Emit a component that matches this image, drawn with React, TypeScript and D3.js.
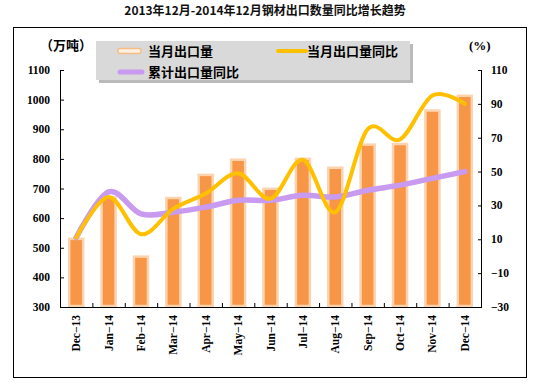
import * as React from 'react';
import * as d3 from 'd3';

const months = ['Dec-13', 'Jan-14', 'Feb-14', 'Mar-14', 'Apr-14', 'May-14', 'Jun-14', 'Jul-14', 'Aug-14', 'Sep-14', 'Oct-14', 'Nov-14', 'Dec-14'];
const monthlyExport = [530, 670, 470, 668, 746, 797, 699, 800, 770, 848, 850, 963, 1013];
const monthlyYoY = [11, 35, 13, 28, 37, 49, 34, 57, 26, 75, 69, 95, 90];
const cumulativeYoY = [11, 38, 25, 26, 29, 33, 33, 36, 35, 39, 42, 46, 50];
const leftTicks = [300, 400, 500, 600, 700, 800, 900, 1000, 1100];
const rightTicks = [-30, -10, 10, 30, 50, 70, 90, 110];

const W = 537;
const H = 389;
const plot = { left: 60, right: 481, top: 70, bottom: 307 };
const numFont = '"Liberation Serif", "Times New Roman", serif';
const cjkFont = '"Noto Sans CJK SC", sans-serif';

const App: React.FC = () => {
  const x = d3.scaleBand().domain(months).range([plot.left, plot.right]).padding(0);
  const yL = d3.scaleLinear().domain([300, 1100]).range([plot.bottom, plot.top]);
  const yR = d3.scaleLinear().domain([-30, 110]).range([plot.bottom, plot.top]);
  const cx = (m: string) => (x(m) as number) + x.bandwidth() / 2;

  const line = d3.line<number>()
    .x((_, i) => cx(months[i]))
    .y(d => yR(d))
    .curve(d3.curveCardinal.tension(0));

  const barW = 14;

  return (
    <svg width={W} height={H} style={{ position: 'absolute', left: 0, top: 0 }}>
      <rect x={0} y={0} width={W} height={H} fill="#fff" />
      <text x={265} y={15} textAnchor="middle" fontFamily={cjkFont} fontWeight="bold" fontSize={12} fill="#111">
        2013年12月-2014年12月钢材出口数量同比增长趋势
      </text>
      <rect x={13.5} y={27.5} width={513} height={350} fill="none" stroke="#000" strokeWidth={1} />

      {/* legend */}
      <rect x={99} y={44} width={314} height={39} fill="#8c8c8c" opacity={0.6} />
      <rect x={96} y={41} width={314} height={39} fill="#d9d9d9" />
      <rect x={118} y={48.5} width={23} height={5} rx={2} fill="#fdf0e2" stroke="#f5bd86" strokeWidth={1.5} />
      <text x={148} y={56} fontFamily={cjkFont} fontWeight="bold" fontSize={13} fill="#000">当月出口量</text>
      <line x1={278} x2={306} y1={51} y2={51} stroke="#ffc000" strokeWidth={4} strokeLinecap="round" />
      <text x={307} y={56} fontFamily={cjkFont} fontWeight="bold" fontSize={13} fill="#000">当月出口量同比</text>
      <line x1={120} x2={142} y1={72} y2={72} stroke="#c89af0" strokeWidth={5} strokeLinecap="round" />
      <text x={148} y={77} fontFamily={cjkFont} fontWeight="bold" fontSize={13} fill="#000">累计出口量同比</text>

      <text x={40} y={50} fontFamily={cjkFont} fontWeight="bold" fontSize={13} fill="#000">（万吨）</text>
      <text x={469} y={50} fontFamily={numFont} fontWeight="bold" fontSize={13} fill="#000">(%)</text>

      {/* bars */}
      {monthlyExport.map((v, i) => (
        <rect key={months[i]} x={cx(months[i]) - barW / 2} y={yL(v)} width={barW} height={plot.bottom - yL(v) - 1}
          fill="#f79646" stroke="#fbd3ae" strokeWidth={2.5} />
      ))}

      {/* lines */}
      <path d={line(cumulativeYoY) ?? ''} fill="none" stroke="#c89af0" strokeWidth={5.5} strokeLinecap="round" />
      <path d={line(monthlyYoY) ?? ''} fill="none" stroke="#ffc000" strokeWidth={4} strokeLinecap="round" />

      {/* axes */}
      <line x1={plot.left + 0.5} x2={plot.left + 0.5} y1={plot.top} y2={plot.bottom} stroke="#000" />
      <line x1={plot.right + 0.5} x2={plot.right + 0.5} y1={plot.top} y2={plot.bottom} stroke="#000" />
      <line x1={plot.left} x2={plot.right + 1} y1={plot.bottom + 0.5} y2={plot.bottom + 0.5} stroke="#000" />
      {leftTicks.map(t => (
        <g key={'l' + t}>
          <line x1={plot.left} x2={plot.left + 4} y1={yL(t) + 0.5} y2={yL(t) + 0.5} stroke="#000" />
          <text x={50} y={yL(t) + 4} textAnchor="end" fontFamily={numFont} fontWeight="bold" fontSize={11.5} fill="#000">{t}</text>
        </g>
      ))}
      {rightTicks.map(t => (
        <g key={'r' + t}>
          <line x1={plot.right - 3} x2={plot.right + 1} y1={yR(t) + 0.5} y2={yR(t) + 0.5} stroke="#000" />
          <text x={491} y={yR(t) + 4} textAnchor="start" fontFamily={numFont} fontWeight="bold" fontSize={11.5} fill="#000">{t < 0 ? '−' + Math.abs(t) : t}</text>
        </g>
      ))}
      {months.slice(1).map(m => (
        <line key={'xt' + m} x1={(x(m) as number) + 0.5} x2={(x(m) as number) + 0.5} y1={plot.bottom - 4} y2={plot.bottom} stroke="#000" />
      ))}
      {months.map(m => (
        <text key={'xl' + m} transform={`translate(${cx(m) + 4},315) rotate(-90)`} textAnchor="end"
          fontFamily={numFont} fontWeight="bold" fontSize={11.5} fill="#000">{m.replace('-', '−')}</text>
      ))}
    </svg>
  );
};

export default App;
